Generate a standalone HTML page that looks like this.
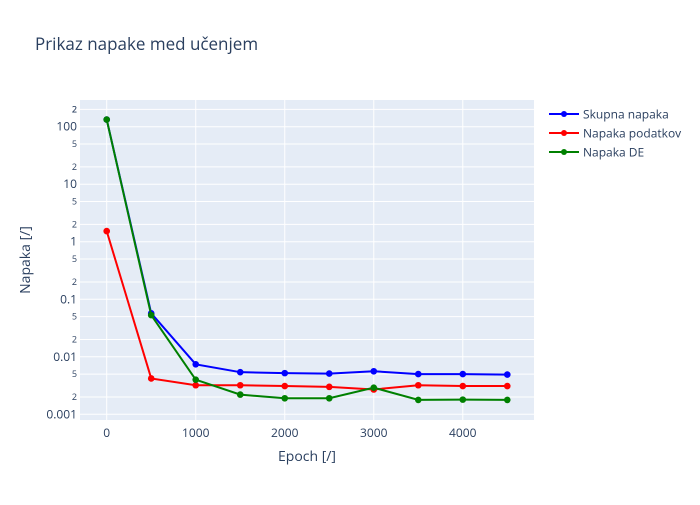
<!DOCTYPE html>
<html><head><meta charset="utf-8"><style>
body{margin:0;background:#fff}
svg{font-family:"Open Sans","Liberation Sans",sans-serif}
</style></head><body>
<svg id="chart" width="700" height="500" xmlns="http://www.w3.org/2000/svg">
<rect width="700" height="500" fill="#fff"/>
<text x="35" y="50" font-size="17" fill="#2a3f5f">Prikaz napake med učenjem</text>
<rect x="80" y="100" width="454" height="320" fill="#e5ecf6"/>
<g id="grid"></g>
<g id="series"></g>
<text x="307" y="461" font-size="14" fill="#2a3f5f" text-anchor="middle">Epoch [/]</text>
<text x="30" y="260" font-size="14" fill="#2a3f5f" text-anchor="middle" transform="rotate(-90 30 260)">Napaka [/]</text>
<g id="legend"></g>
</svg>
<script>
const epochs=[0,500,1000,1500,2000,2500,3000,3500,4000,4500];
const skupna=[133,0.057,0.0074,0.0054,0.0052,0.0051,0.0056,0.0050,0.0050,0.0049];
const podatkov=[1.53,0.0042,0.0032,0.0032,0.0031,0.0030,0.0027,0.0032,0.0031,0.0031];
const napakaDE=[133,0.053,0.0040,0.0022,0.0019,0.0019,0.0029,0.00178,0.0018,0.00178];
const seriesNames=["Skupna napaka","Napaka podatkov","Napaka DE"];
const xTicks=[0,1000,2000,3000,4000];
const NS="http://www.w3.org/2000/svg";
const X0=80,X1=534,Y0=100,Y1=420;
const xMin=-300,xMax=4800;
const lMin=-3.099,lMax=2.464;
function xs(v){return X0+(v-xMin)/(xMax-xMin)*(X1-X0);}
function ys(v){return Y1-(Math.log10(v)-lMin)/(lMax-lMin)*(Y1-Y0);}
function mk(t,a,p){const e=document.createElementNS(NS,t);for(const k in a)e.setAttribute(k,a[k]);p.appendChild(e);return e;}
const grid=document.getElementById('grid');
for(const v of xTicks){
 const l=mk('line',{x1:xs(v),x2:xs(v),y1:Y0,y2:Y1,stroke:'#fff','stroke-width':1},grid);
 
 
 const t=mk('text',{x:xs(v),y:437,'font-size':12,fill:'#2a3f5f','text-anchor':'middle'},grid);
 t.textContent=v;
 
 
}
const majors={'-3':'0.001','-2':'0.01','-1':'0.1','0':'1','1':'10','2':'100'};
for(let d=-3;d<=2;d++){
 for(const m of [1,2,5]){
  const v=m*Math.pow(10,d);const y=ys(v);
  if(y<Y0||y>Y1)continue;
  const l=mk('line',{x1:X0,x2:X1,y1:y,y2:y,stroke:'#fff','stroke-width':1},grid);
  
  
  const t=mk('text',{x:77,y:y+(m==1?4:3),'font-size':m==1?12:9,fill:'#2a3f5f','text-anchor':'end'},grid);
  t.textContent=m==1?majors[d]:m;
  
  
 }
}
{const v=200;const y=ys(v);const t=mk('text',{x:77,y:y+3,'font-size':9,fill:'#2a3f5f','text-anchor':'end'},grid);t.textContent='2';
 
 }
const allSeries=[skupna,podatkov,napakaDE];
const colors=['#0000ff','#ff0000','#008000'];
const sg=document.getElementById('series');
const lg=document.getElementById('legend');
allSeries.forEach((s,i)=>{
 const pts=epochs.map((e,j)=>xs(e)+','+ys(s[j])).join(' ');
 const pl=mk('polyline',{points:pts,fill:'none',stroke:colors[i],'stroke-width':2},sg);
 
 
 epochs.forEach((e,j)=>{
  const c=mk('circle',{cx:xs(e),cy:ys(s[j]),r:3.3,fill:colors[i]},sg);
  
  
 });
 const ly=114+i*19;
 const ll=mk('line',{x1:549,x2:579,y1:ly,y2:ly,stroke:colors[i],'stroke-width':2},lg);
 
 
 mk('circle',{cx:564,cy:ly,r:3,fill:colors[i]},lg);
 const t=mk('text',{x:583,y:ly+4.5,'font-size':12,fill:'#2a3f5f'},lg);
 t.textContent=seriesNames[i];
 
 
});
</script>
</body></html>
